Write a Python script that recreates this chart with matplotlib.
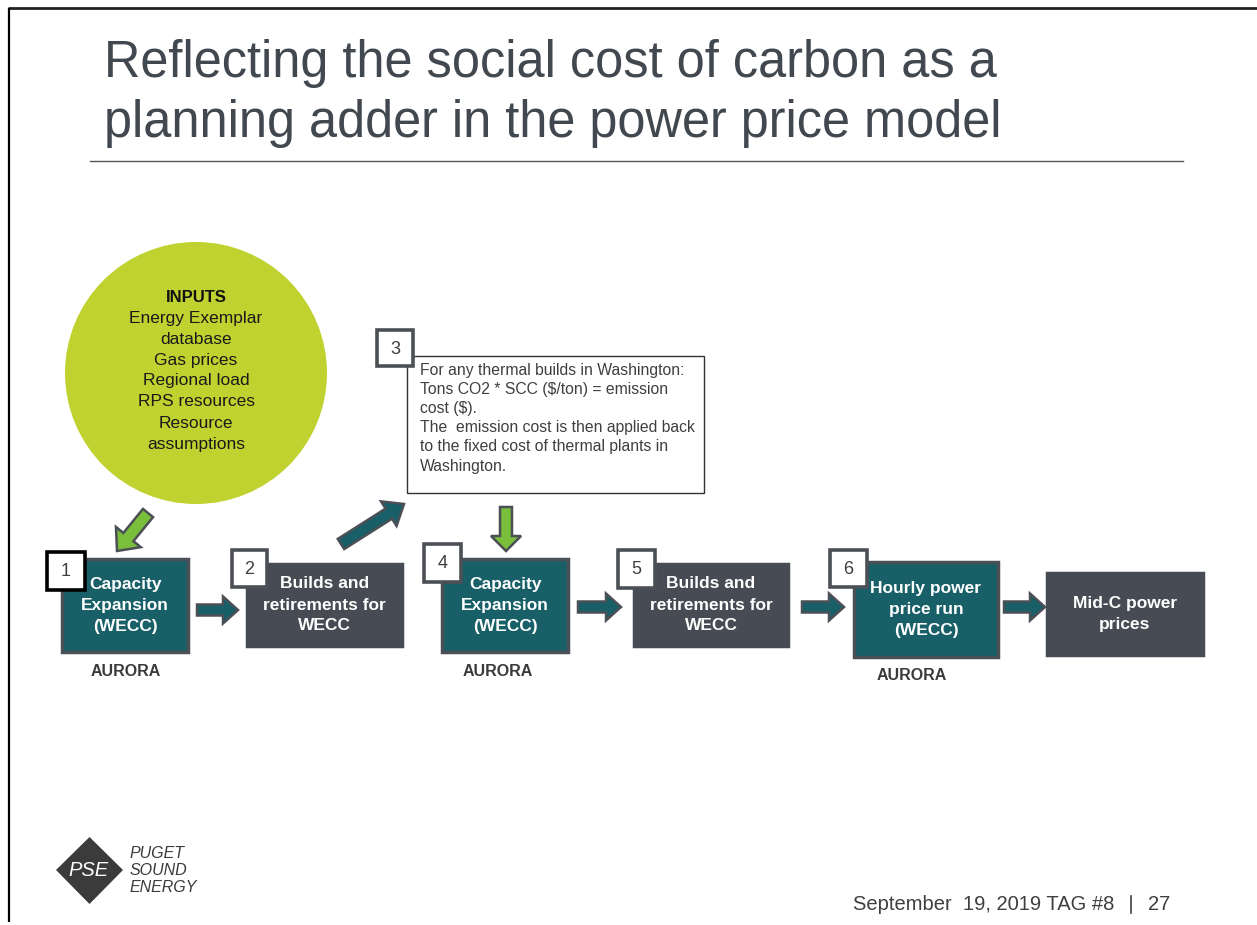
#!/usr/bin/env python3.12
"""
Slide: reflecting the social cost of carbon as a planning adder
in the power price model (AURORA flow diagram).
"""

import matplotlib

matplotlib.use("Agg")
import matplotlib.pyplot as plt
from matplotlib.patches import Circle, FancyArrow, Polygon, Rectangle

# =========================
# TEXT / CONTENT
# =========================

TITLE_LINES = [
    "Reflecting the social cost of carbon as a",
    "planning adder in the power price model",
]

INPUT_HEADER = "INPUTS"
INPUT_ITEMS = [
    "Energy Exemplar",
    "database",
    "Gas prices",
    "Regional load",
    "RPS resources",
    "Resource",
    "assumptions",
]

STEP_LABELS = [
    ["Capacity", "Expansion", "(WECC)"],
    ["Builds and", "retirements for", "WECC"],
    ["Capacity", "Expansion", "(WECC)"],
    ["Builds and", "retirements for", "WECC"],
    ["Hourly power", "price run", "(WECC)"],
    ["Mid-C power", "prices"],
]
STEP_NUMBERS = ["1", "2", "4", "5", "6", None]
STEP_KINDS = ["model", "result", "model", "result", "model", "result"]
STEP_FOOTNOTES = ["AURORA", None, "AURORA", None, "AURORA", None]

NOTE_NUMBER = "3"
NOTE_LINES = [
    "For any thermal builds in Washington:",
    "Tons CO2 * SCC ($/ton) = emission",
    "cost ($).",
    "The  emission cost is then applied back",
    "to the fixed cost of thermal plants in",
    "Washington.",
]

FOOTER_DATE = "September  19, 2019 TAG #8"
FOOTER_PAGE = "27"
LOGO_MARK = "PSE"
LOGO_WORDS = ["PUGET", "SOUND", "ENERGY"]

# =========================
# LAYOUT (pixel coordinates, origin top-left)
# =========================

W, H = 1257, 925

# (x0, y0, x1, y1) of the process boxes
STEP_BOXES = [
    (62, 559, 188, 652),
    (247, 564, 402, 646),
    (442, 559, 568, 652),
    (634, 564, 788, 646),
    (854, 562, 998, 657),
    (1047, 573, 1203, 655),
]
# number tags (x0, y0, x1, y1)
NUMBER_TAGS = [
    (47, 552, 85, 590),
    (232, 550, 267, 587),
    (424, 544, 461, 582),
    (618, 550, 655, 588),
    (830, 550, 867, 587),
    None,
]
FOOTNOTE_POS = [(126, 671), None, (498, 671), None, (912, 675), None]

# horizontal arrows between boxes: (x_start, x_end, y)
FLOW_ARROWS = [(197, 238, 610), (578, 621, 607), (802, 844, 607), (1004, 1045, 607)]

NOTE_BOX = (407, 356, 704, 493)
NOTE_TAG = (377, 330, 413, 366)

CIRCLE_CENTER = (196, 373)
CIRCLE_R = 131

TEAL = "#185f68"
SLATE = "#474b53"
EDGE = "#4b4f56"
LIME = "#bfd22f"
GREEN = "#7abf3b"
TEXT_DARK = "#3f3f3f"
TITLE_COLOR = "#414850"

FONT = ["Liberation Sans", "DejaVu Sans"]
LINE_STEP = 21


def box(ax, rect, fc, ec, lw, z=2):
    x0, y0, x1, y1 = rect
    ax.add_patch(Rectangle((x0, y0), x1 - x0, y1 - y0, fc=fc, ec=ec, lw=lw, zorder=z))


def arrow(ax, x0, y0, x1, y1, fc, width=11, head_width=27, head_length=15):
    ax.add_patch(
        FancyArrow(
            x0, y0, x1 - x0, y1 - y0,
            width=width, head_width=head_width, head_length=head_length,
            length_includes_head=True, fc=fc, ec=EDGE, lw=1.8, zorder=3,
        )
    )


def main() -> None:
    plt.rcParams["font.family"] = FONT

    fig = plt.figure(figsize=(W / 100, H / 100), dpi=100)
    ax = fig.add_axes([0, 0, 1, 1])
    ax.set_xlim(0, W)
    ax.set_ylim(H, 0)
    ax.axis("off")

    # slide frame
    ax.plot([8, W], [8, 8], color="#222222", lw=2.0, solid_capstyle="butt")
    ax.plot([9, 9], [8, 922], color="#000000", lw=1.6, solid_capstyle="butt")

    # title
    for i, line in enumerate(TITLE_LINES):
        ax.text(104, 63 + i * 60, line, fontsize=36.4, color=TITLE_COLOR,
                ha="left", va="center")
    ax.plot([90, 1183], [161, 161], color="#555555", lw=1.0)

    # inputs circle
    ax.add_patch(Circle(CIRCLE_CENTER, CIRCLE_R, fc=LIME, ec="none", zorder=1))
    ax.text(CIRCLE_CENTER[0], 297, INPUT_HEADER, fontsize=12, fontweight="bold",
            color="#111111", ha="center", va="center", zorder=4)
    for i, item in enumerate(INPUT_ITEMS):
        ax.text(CIRCLE_CENTER[0], 318 + i * LINE_STEP, item, fontsize=12.5,
                color="#1a1a1a", ha="center", va="center", zorder=4)

    # green arrows
    arrow(ax, 148, 513, 117, 551, GREEN, width=13, head_width=32, head_length=18)
    arrow(ax, 506, 507, 506, 551, GREEN, width=12, head_width=30, head_length=15)
    # teal diagonal arrow to the note
    arrow(ax, 341, 544, 404, 504, TEAL, width=12, head_width=29, head_length=18)

    # process boxes
    for rect, lines, kind in zip(STEP_BOXES, STEP_LABELS, STEP_KINDS):
        fc = TEAL if kind == "model" else SLATE
        ec = EDGE if kind == "model" else SLATE
        box(ax, rect, fc, ec, 2.5)
        cx = (rect[0] + rect[2]) / 2
        cy = (rect[1] + rect[3]) / 2
        top = cy - (len(lines) - 1) * LINE_STEP / 2
        for j, line in enumerate(lines):
            ax.text(cx, top + j * LINE_STEP, line, fontsize=12.5, fontweight="bold",
                    color="white", ha="center", va="center", zorder=4)

    for num, tag in zip(STEP_NUMBERS, NUMBER_TAGS):
        if num is None:
            continue
        ec = "#000000" if num == "1" else EDGE
        box(ax, tag, "white", ec, 2.6, z=5)
        ax.text((tag[0] + tag[2]) / 2, (tag[1] + tag[3]) / 2 + 1, num, fontsize=13,
                color=TEXT_DARK, ha="center", va="center", zorder=6)

    for note, pos in zip(STEP_FOOTNOTES, FOOTNOTE_POS):
        if note:
            ax.text(pos[0], pos[1], note, fontsize=11.5, fontweight="bold",
                    color="#3a3a3a", ha="center", va="center")

    for x0, x1, y in FLOW_ARROWS:
        arrow(ax, x0, y, x1, y, TEAL)

    # emission cost note
    box(ax, NOTE_BOX, "white", "#333333", 1.0)
    for i, line in enumerate(NOTE_LINES):
        ax.text(420, 370 + i * 19.2, line, fontsize=11.3, color=TEXT_DARK,
                ha="left", va="center", zorder=4)
    box(ax, NOTE_TAG, "white", EDGE, 2.6, z=5)
    ax.text((NOTE_TAG[0] + NOTE_TAG[2]) / 2, (NOTE_TAG[1] + NOTE_TAG[3]) / 2 + 1,
            NOTE_NUMBER, fontsize=13, color=TEXT_DARK, ha="center", va="center",
            zorder=6)

    # logo
    ax.add_patch(Polygon([(56, 870), (89.5, 837), (123, 870), (89.5, 904)],
                         closed=True, fc="#3b3b3b", ec="none"))
    ax.text(88, 871, LOGO_MARK, fontsize=14.5, style="italic", color="white",
            ha="center", va="center")
    for i, word in enumerate(LOGO_WORDS):
        ax.text(130, 853 + i * 17.5, word, fontsize=11.5, style="italic",
                color="#3b3b3b", ha="left", va="center")

    # footer
    ax.text(853, 904, FOOTER_DATE, fontsize=14.5, color=TEXT_DARK,
            ha="left", va="center")
    ax.plot([1131, 1131], [896, 913], color=TEXT_DARK, lw=1.2)
    ax.text(1148, 904, FOOTER_PAGE, fontsize=14.5, color=TEXT_DARK,
            ha="left", va="center")

    fig.savefig("out.png", dpi=100, facecolor="white")


if __name__ == "__main__":
    main()
